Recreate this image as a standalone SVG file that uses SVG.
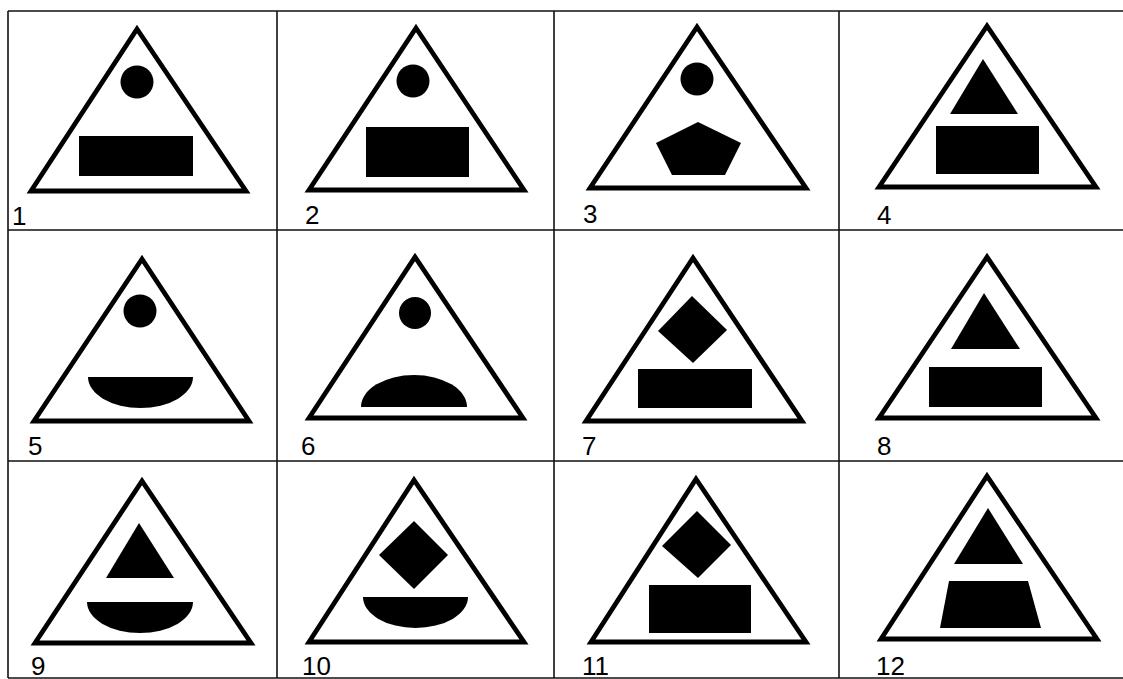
<svg xmlns="http://www.w3.org/2000/svg" width="1123" height="679" viewBox="0 0 1123 679">
<style>
.grid{stroke:#111;stroke-width:1.6;fill:none}
.tri{fill:#fff;stroke:#000;stroke-width:4.8;stroke-linejoin:miter}
.f{fill:#000;stroke:none}
.lbl{font-family:"Liberation Sans",Arial,sans-serif;font-size:26px;fill:#000}
</style>
<rect width="1123" height="679" fill="#fff"/>
<g id="grid">
<line class="grid" x1="8" y1="11" x2="1123" y2="11"/>
<line class="grid" x1="8" y1="230" x2="1123" y2="230"/>
<line class="grid" x1="8" y1="461" x2="1123" y2="461"/>
<line class="grid" x1="8" y1="678" x2="1123" y2="678"/>
<line class="grid" x1="8" y1="11" x2="8" y2="678"/>
<line class="grid" x1="277" y1="11" x2="277" y2="678"/>
<line class="grid" x1="554" y1="11" x2="554" y2="678"/>
<line class="grid" x1="839" y1="11" x2="839" y2="678"/>
</g>
<g id="cell1">
<polygon class="tri" points="137,29 31,191 246,191"/>
<circle class="f" cx="137" cy="82" r="16.5"/>
<rect class="f" x="79" y="136" width="114" height="40"/>
<text class="lbl" x="12" y="225">1</text>
</g>
<g id="cell2">
<polygon class="tri" points="416,28 309,190 524,190"/>
<circle class="f" cx="413" cy="81" r="16.5"/>
<rect class="f" x="366" y="127" width="103" height="50"/>
<text class="lbl" x="305" y="224">2</text>
</g>
<g id="cell3">
<polygon class="tri" points="697,27 590,188 806,188"/>
<circle class="f" cx="697" cy="79" r="16.5"/>
<polygon class="f" points="698,122 741,143 725,175 672,175 656,143"/>
<text class="lbl" x="583" y="223">3</text>
</g>
<g id="cell4">
<polygon class="tri" points="987,26 879,187 1096,187"/>
<polygon class="f" points="983,59 950,114 1018,114"/>
<rect class="f" x="936" y="126" width="103" height="48"/>
<text class="lbl" x="877" y="224">4</text>
</g>
<g id="cell5">
<polygon class="tri" points="142,259 34,421 249,421"/>
<circle class="f" cx="140" cy="311" r="16.5"/>
<path class="f" d="M88,377 H193 A52.5,31 0 0 1 88,377 Z"/>
<text class="lbl" x="28" y="455">5</text>
</g>
<g id="cell6">
<polygon class="tri" points="415,257 309,418 523,418"/>
<circle class="f" cx="415" cy="313" r="16"/>
<path class="f" d="M361,407 A53,32 0 0 1 467,407 Z"/>
<text class="lbl" x="301" y="455">6</text>
</g>
<g id="cell7">
<polygon class="tri" points="693,258 586,421 802,421"/>
<polygon class="f" points="692,296 727,330 693,363 658,331"/>
<rect class="f" x="638" y="369" width="114" height="39"/>
<text class="lbl" x="582" y="455">7</text>
</g>
<g id="cell8">
<polygon class="tri" points="987,257 879,418 1096,418"/>
<polygon class="f" points="984,293 951,349 1020,349"/>
<rect class="f" x="929" y="367" width="113" height="40"/>
<text class="lbl" x="877" y="455">8</text>
</g>
<g id="cell9">
<polygon class="tri" points="142,481 35,643 251,643"/>
<polygon class="f" points="139,523 106,578 174,578"/>
<path class="f" d="M87,602 H193 A53,31 0 0 1 87,602 Z"/>
<text class="lbl" x="31" y="675">9</text>
</g>
<g id="cell10">
<polygon class="tri" points="414,480 309,642 524,642"/>
<polygon class="f" points="414,521 448,555 414,589 379,555"/>
<path class="f" d="M363,597 H468 A52.5,31 0 0 1 363,597 Z"/>
<text class="lbl" x="302" y="675">10</text>
</g>
<g id="cell11">
<polygon class="tri" points="696,479 591,642 806,642"/>
<polygon class="f" points="697,511 731,545 698,578 662,546"/>
<rect class="f" x="649" y="585" width="102" height="48"/>
<text class="lbl" x="582" y="675">11</text>
</g>
<g id="cell12">
<polygon class="tri" points="987,476 881,639 1097,639"/>
<polygon class="f" points="988,508 954,564 1023,564"/>
<polygon class="f" points="949,581 1028,581 1041,628 940,628"/>
<text class="lbl" x="876" y="675">12</text>
</g>
</svg>
